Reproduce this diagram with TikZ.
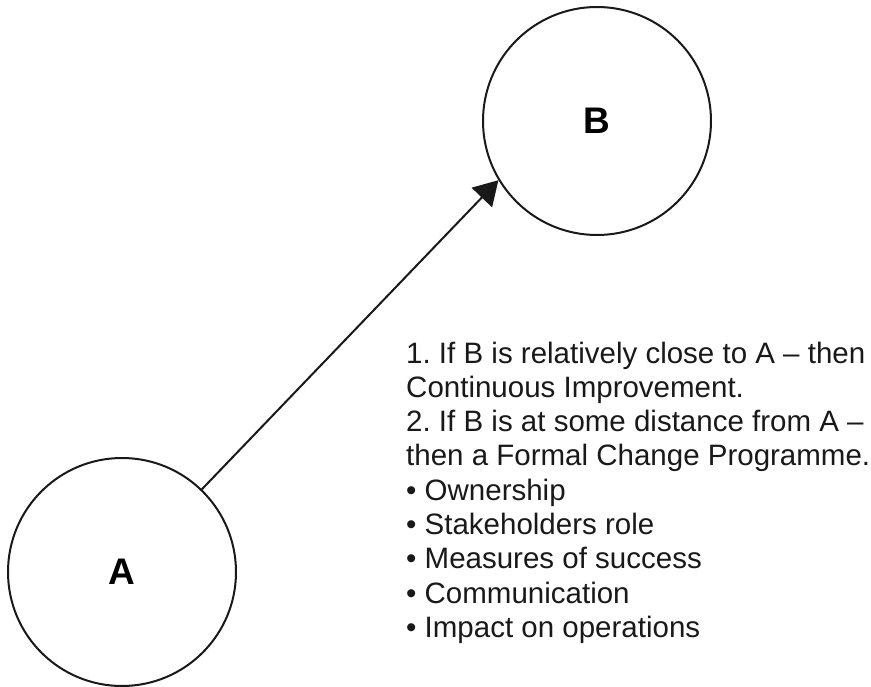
\documentclass[tikz,border=0pt]{standalone}
\usepackage{fontspec}
\setmainfont{Liberation Sans}
\usetikzlibrary{arrows.meta}
\frenchspacing
\begin{document}
\begin{tikzpicture}[x=1pt,y=-1pt,
  state/.style={circle,draw=black!90,line width=2pt,minimum size=228pt,inner sep=0pt,
    font=\fontsize{37pt}{40pt}\selectfont\bfseries},
  body/.style={anchor=base west,inner sep=0pt,font=\fontsize{29.5pt}{34.3pt}\selectfont,text=black!90},
  link/.style={line width=2pt,draw=black!90,-{Triangle[length=24pt,width=28pt]}}]
  \useasboundingbox (0,0) rectangle (871,687);
  \node[state] (A) at (122,572) {A};
  \node[state] (B) at (597,121) {B};
  \draw[link] (A.46.4) -- (B.211.7);
  \foreach \txt [count=\i] in {
    {1. If B is relatively close to A – then},
    {Continuous Improvement.},
    {2. If B is at some distance from A –},
    {then a Formal Change Programme.},
    {• Ownership},
    {• Stakeholders role},
    {• Measures of success},
    {• Communication},
    {• Impact on operations}}
    \node[body,name=t\i] at (406,{363+34.3*(\i-1)}) {\txt};
\end{tikzpicture}
\end{document}
